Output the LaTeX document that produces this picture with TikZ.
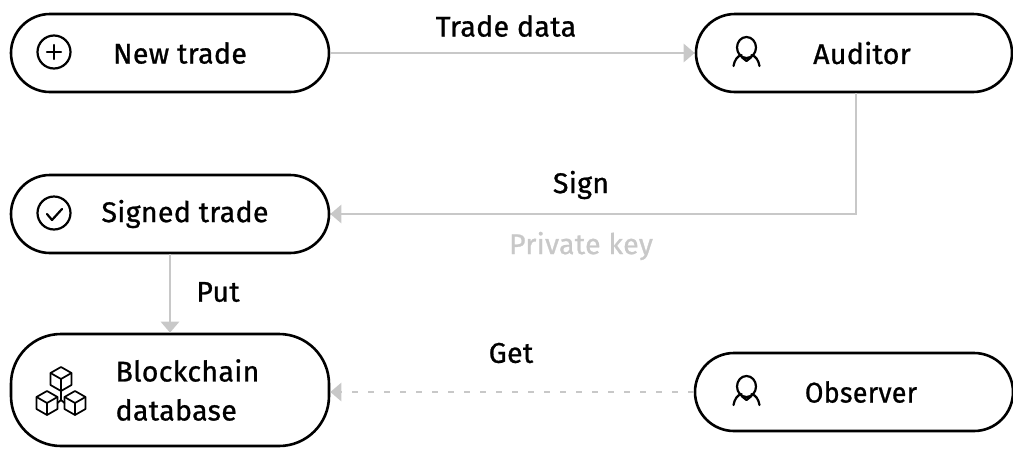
\documentclass[tikz,border=0pt]{standalone}
\usepackage{fontspec}
\setmainfont{Fira Sans}[LetterSpace=1.2,FakeBold=0.9]
\usetikzlibrary{arrows.meta}
\definecolor{gl}{HTML}{C8C8C8}
\tikzset{
 x=1pt,y=-1pt,
 pill/.style={draw=black,line width=2.6pt,rounded corners=39pt,minimum width=318pt,minimum height=78pt,inner sep=0pt},
 lab/.style={font=\fontsize{28.5}{39}\selectfont,text=black,inner sep=0pt,align=left},
 link/.style={draw=gl,line width=2.8pt,-{Triangle[length=11pt,width=18pt,fill=gl]}},
 ic/.style={draw=black,line width=2.2pt,line cap=round,line join=round},
}
\begin{document}
\begin{tikzpicture}
\useasboundingbox (0,0) rectangle (1013,448);
\node[pill] (new) at (170,53) {};
\node[pill] (signed) at (170,214) {};
\node[pill,minimum height=112pt,rounded corners=50pt] (db) at (170,390) {};
\node[pill,minimum width=316pt] (aud) at (854,53) {};
\node[pill] (obs) at (854,392) {};
\draw[link] (new) -- (aud);
\draw[link,rounded corners=0pt] (aud.south) ++(2,0) coordinate (a) -- (a |- signed.east) -- (signed.east);
\draw[link] (signed) -- (db);
\draw[link,dash pattern=on 6pt off 10pt] (obs.west) -- (db.east |- obs.west);
\node[lab] (t1) at (180,53) {New trade};
\node[lab] (t2) at (185,214) {Signed trade};
\node[lab] (t3) at (187.5,390) {Blockchain\\database};
\node[lab] (t4) at (862,53) {Auditor};
\node[lab,xscale=0.94] (t5) at (861,392) {Observer};
\node[lab] (l1) at (506,26) {Trade data};
\node[lab] (l2) at (581,185) {Sign};
\node[lab,text=gl] (l3) at (581,246) {Private key};
\node[lab] (l4) at (218,292) {Put};
\node[lab] (l5) at (511,353) {Get};
% plus icon
\draw[ic] (54,52) circle (16.5);
\draw[ic] (54,45)--(54,59) (47,52)--(61,52);
% check icon
\draw[ic] (54,213) circle (16.5);
\draw[ic] (47,214)--(52,220)--(62,209);
% person icons
\foreach \cy in {53,392}{
 \begin{scope}[shift={(746.5,\cy)}]
 \draw[ic] (0,-5.5) ellipse (9.5 and 10.5);
 \draw[ic] (-13,13) .. controls (-12,7) and (-9,3) .. (-5,2);
 \draw[ic] (13,13) .. controls (12,7) and (9,3) .. (5,2);
 \draw[ic] (-5,4) -- (0,8) -- (5,4);
 \end{scope}
}
% cubes
\newcommand{\mycube}[2]{
 \begin{scope}[shift={(#1,#2)}]
 \draw[ic,line width=1.7pt] (0,-12)--(10.5,-6)--(10.5,6)--(0,12)--(-10.5,6)--(-10.5,-6)--cycle;
 \draw[ic,line width=1.7pt] (-10.5,-6)--(0,0)--(10.5,-6) (0,0)--(0,12);
 \end{scope}}
\mycube{61}{379}
\mycube{47}{403}
\mycube{75}{403}
\draw[ic,line width=1.7pt] (61,391)--(61,400) (61,400)--(57.5,403) (61,400)--(64.5,403);
\end{tikzpicture}
\end{document}
